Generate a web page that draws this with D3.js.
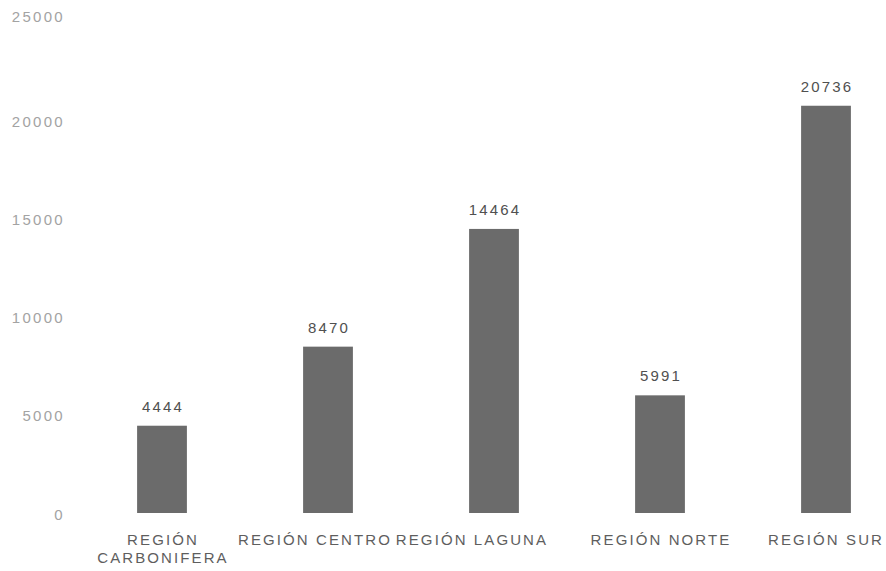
<!DOCTYPE html>
<html>
<head>
<meta charset="utf-8">
<script src="https://cdn.jsdelivr.net/npm/d3@7"></script>
<style>
  body { margin: 0; background: #fff; }
  text { font-family: "Liberation Sans", Arial, sans-serif; }
</style>
</head>
<body>
<div id="canvas"></div>
<script>
var regions = ["REGIÓN CARBONIFERA", "REGIÓN CENTRO", "REGIÓN LAGUNA", "REGIÓN NORTE", "REGIÓN SUR"];
var regionLines = [["REGIÓN", "CARBONIFERA"], ["REGIÓN CENTRO"], ["REGIÓN LAGUNA"], ["REGIÓN NORTE"], ["REGIÓN SUR"]];
var totals = [4444, 8470, 14464, 5991, 20736];
var yTicks = [0, 5000, 10000, 15000, 20000, 25000];

var width = 886;
var height = 571;
// the long labels in the middle sit a bit to the left of their bars
var labelShift = [0, -14, -23, 0, -1];

var svg = d3.select("#canvas").append("svg")
    .attr("width", width)
    .attr("height", height);

var x = d3.scaleBand()
    .domain(regions)
    .range([79, 909])
    .paddingInner(0.7)
    .paddingOuter(0.35);

var y = d3.scaleLinear()
    .domain([0, 25000])
    .range([513, 22]);

// y axis, labels only
var yAxis = svg.append("g")
    .attr("transform", "translate(69,0)")
    .call(d3.axisLeft(y).tickValues(yTicks).tickSize(0).tickPadding(4).tickFormat(d3.format("d")));
yAxis.select(".domain").remove();
yAxis.selectAll("text")
    .attr("fill", "#a3a3a3")
    .attr("dy", function (d) { return d === 25000 ? "-0.05em" : "0.4em"; })
    .style("font-size", "15px")
    .style("letter-spacing", "2.3px");

// bars
svg.selectAll("rect.bar")
    .data(totals)
    .enter().append("rect")
    .attr("class", "bar")
    .attr("x", function (d, i) { return x(regions[i]); })
    .attr("y", function (d) { return y(d); })
    .attr("width", x.bandwidth())
    .attr("height", function (d) { return y(0) - y(d); })
    .attr("fill", "#6b6b6b");

// value labels
svg.selectAll("text.val")
    .data(totals)
    .enter().append("text")
    .attr("class", "val")
    .attr("x", function (d, i) { return x(regions[i]) + x.bandwidth() / 2 + 1; })
    .attr("y", function (d) { return y(d) - 14; })
    .attr("text-anchor", "middle")
    .attr("fill", "#505050")
    .style("font-size", "15px")
    .style("letter-spacing", "2.2px")
    .text(function (d) { return d; });

// category labels
var cats = svg.selectAll("text.cat")
    .data(regionLines)
    .enter().append("text")
    .attr("class", "cat")
    .attr("text-anchor", "middle")
    .attr("fill", "#5e5e5e")
    .style("font-size", "15px")
    .style("letter-spacing", "2.1px")
    .attr("x", function (d, i) { return x(regions[i]) + x.bandwidth() / 2 + 1 + labelShift[i]; })
    .attr("y", y(0) + 32);

cats.selectAll("tspan")
    .data(function (d) { return d; })
    .enter().append("tspan")
    .attr("x", function () { return this.parentNode.getAttribute("x"); })
    .attr("dy", function (d, i) { return i === 0 ? 0 : 18; })
    .text(function (d) { return d; });
</script>
</body>
</html>
